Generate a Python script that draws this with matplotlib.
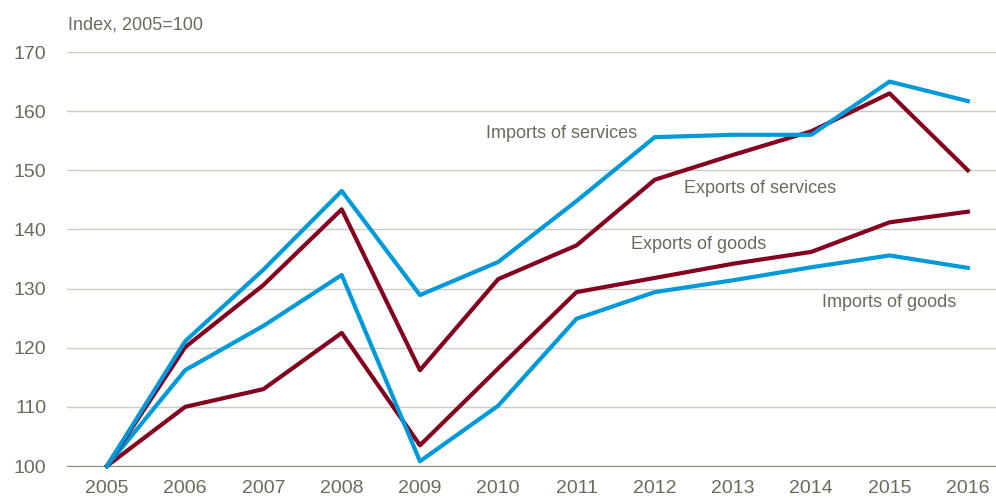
import matplotlib.pyplot as plt
from matplotlib import font_manager

years = [2005, 2006, 2007, 2008, 2009, 2010, 2011, 2012, 2013, 2014, 2015, 2016]
imports_services = [100, 121.1, 133.2, 146.5, 128.9, 134.5, 144.8, 155.6, 156.0, 156.0, 165.0, 161.7]
exports_services = [100, 120.1, 130.6, 143.4, 116.2, 131.6, 137.3, 148.4, 152.6, 156.6, 163.0, 150.0]
imports_goods = [100, 116.2, 123.7, 132.3, 100.8, 110.2, 124.9, 129.4, 131.4, 133.6, 135.6, 133.5]
exports_goods = [100, 110.0, 113.0, 122.5, 103.5, 116.5, 129.4, 131.8, 134.2, 136.2, 141.2, 143.0]

label_names = ["Imports of services", "Exports of services", "Exports of goods", "Imports of goods"]

blue = '#009ADA'
red = '#85001F'
grey_txt = '#6B6B5B'

names = {f.name for f in font_manager.fontManager.ttflist}
fam = 'Liberation Sans Narrow' if 'Liberation Sans Narrow' in names else 'Liberation Sans'
plt.rcParams['font.family'] = [fam, 'DejaVu Sans']

fig = plt.figure(figsize=(9.96, 4.99), dpi=100)
ax = fig.add_axes([67 / 996, 33 / 499, 1 - 67 / 996, 414 / 499])

ax.plot(years, exports_goods, color=red, lw=3, clip_on=False, zorder=3)
ax.plot(years, imports_goods, color=blue, lw=3, clip_on=False, zorder=3)
ax.plot(years, exports_services, color=red, lw=3, clip_on=False, zorder=3)
ax.plot(years, imports_services, color=blue, lw=3, clip_on=False, zorder=3)

ax.set_xlim(2004.49, 2016.36)
ax.set_ylim(100, 170)
ax.set_yticks(range(100, 171, 10))
ax.set_xticks(years)
ax.grid(axis='y', color='#CBCBC0', lw=1)
ax.set_axisbelow(True)
for s in ['top', 'right', 'left']:
    ax.spines[s].set_visible(False)
ax.spines['bottom'].set_color('#8C8C7A')
ax.tick_params(length=0, labelsize=14, colors=grey_txt)
ax.tick_params(axis='y', pad=15)
ax.tick_params(axis='x', pad=10)

tx = [2010.81, 2013.34, 2012.56, 2015.0]
ty = [156.3, 147.0, 137.4, 127.7]
for n, x, y in zip(label_names, tx, ty):
    ax.text(x, y, n, color=grey_txt, fontsize=13, ha='center', va='center')

fig.text(68 / 996, 1 - 25 / 499, 'Index, 2005=100', color=grey_txt, fontsize=13, va='center')

fig.savefig('out.png', dpi=100)
